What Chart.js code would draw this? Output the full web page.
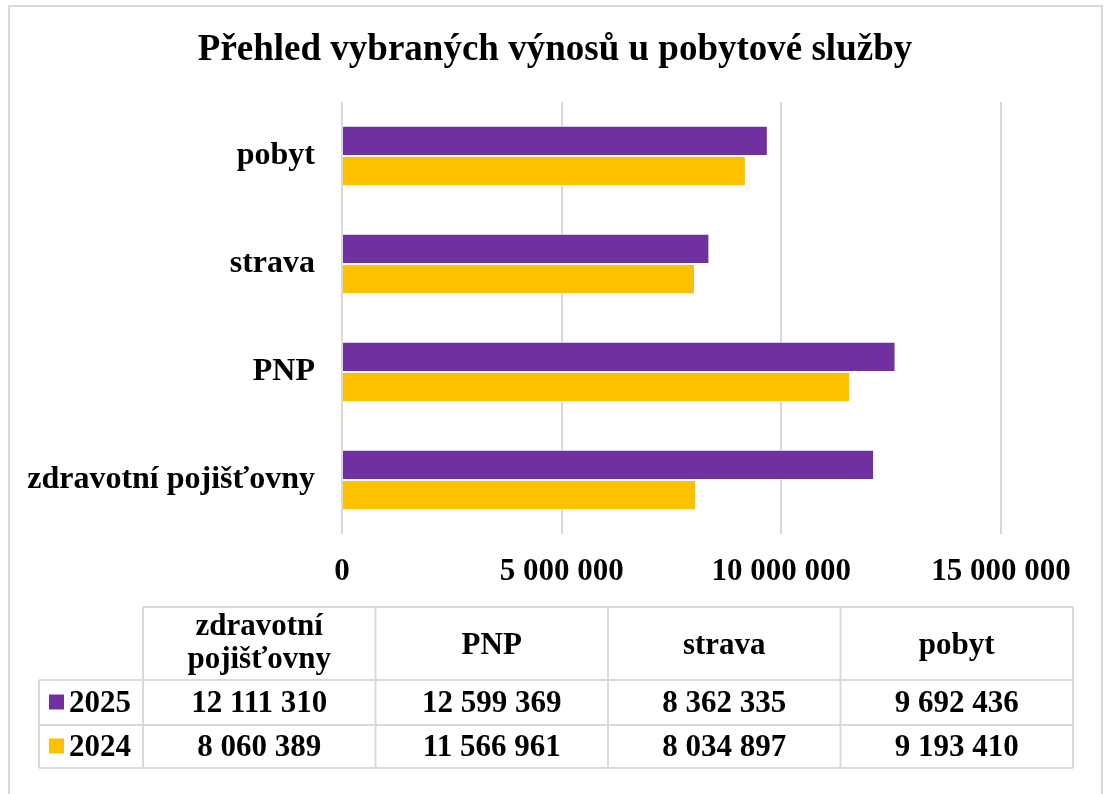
<!DOCTYPE html>
<html>
<head>
<meta charset="utf-8">
<script src="https://cdn.jsdelivr.net/npm/chart.js@4.4.1/dist/chart.umd.min.js"></script>
</head>
<body style="margin:0;background:#fff">

<canvas id="myChart" width="1104" height="794"></canvas>

<script>
var chartTitle = "Přehled vybraných výnosů u pobytové služby";
var categories = ["zdravotní pojišťovny", "PNP", "strava", "pobyt"];
var seriesNames = ["2025", "2024"];
var values2025 = [12111310, 12599369, 8362335, 9692436];
var values2024 = [8060389, 11566961, 8034897, 9193410];
var barColors = ["#7030A0", "#FFC000"];
var xTicks = [0, 5000000, 10000000, 15000000];

var FONT = "'Liberation Serif', 'Times New Roman', serif";

function fmt(v) {
	return v.toString().replace(/\B(?=(\d{3})+(?!\d))/g, " ");
}

// frame, title and data table below the chart (Excel style)
var tablePlugin = {
	id: 'dataTable',
	beforeDraw: function (chart) {
		var ctx = chart.ctx;
		ctx.save();
		ctx.fillStyle = '#fff';
		ctx.fillRect(0, 0, chart.width, chart.height);
		ctx.strokeStyle = '#d9d9d9';
		ctx.lineWidth = 2;
		ctx.strokeRect(9, 6, 1093, 800);
		ctx.fillStyle = '#000';
		ctx.font = "bold 37px " + FONT;
		ctx.textAlign = 'center';
		ctx.textBaseline = 'middle';
		ctx.fillText(chartTitle, 555, 50);
		ctx.restore();
	},
	afterDraw: function (chart) {
		var ctx = chart.ctx;
		var left = 39, legRight = 143, right = 1073;
		var rows = [607, 680, 725, 768];
		var colW = (right - legRight) / categories.length;
		var sets = chart.data.datasets;
		ctx.save();
		ctx.strokeStyle = '#d9d9d9';
		ctx.lineWidth = 2;
		ctx.beginPath();
		// horizontal lines
		ctx.moveTo(legRight, rows[0]); ctx.lineTo(right, rows[0]);
		for (var r = 1; r < rows.length; r++) {
			ctx.moveTo(left, rows[r]); ctx.lineTo(right, rows[r]);
		}
		// vertical lines
		ctx.moveTo(left, rows[1]); ctx.lineTo(left, rows[3]);
		for (var c = 0; c <= categories.length; c++) {
			var x = legRight + c * colW;
			ctx.moveTo(x, rows[0]); ctx.lineTo(x, rows[3]);
		}
		ctx.stroke();

		ctx.fillStyle = '#000';
		ctx.font = "bold 31px " + FONT;
		ctx.textAlign = 'center';
		ctx.textBaseline = 'middle';
		for (var i = 0; i < categories.length; i++) {
			var cx = legRight + (i + 0.5) * colW;
			var label = categories[i];
			if (ctx.measureText(label).width > colW - 10) {
				var parts = label.split(' ');
				ctx.fillText(parts[0], cx, rows[0] + 20);
				ctx.fillText(parts.slice(1).join(' '), cx, rows[0] + 53);
			} else {
				ctx.fillText(label, cx, (rows[0] + rows[1]) / 2 + 2);
			}
			for (var d = 0; d < sets.length; d++) {
				ctx.fillText(fmt(sets[d].data[i]), cx, (rows[d + 1] + rows[d + 2]) / 2 + 1);
			}
		}
		// legend keys
		for (var d = 0; d < sets.length; d++) {
			var cy = (rows[d + 1] + rows[d + 2]) / 2;
			ctx.fillStyle = sets[d].backgroundColor;
			ctx.fillRect(49, cy - 8, 15, 15);
			ctx.fillStyle = '#000';
			ctx.textAlign = 'left';
			ctx.fillText(sets[d].label, 69, cy + 1);
		}
		ctx.restore();
	}
};

new Chart("myChart", {
	type: 'bar',
	data: {
		labels: categories,
		datasets: [{
			label: seriesNames[0],
			data: values2025,
			backgroundColor: barColors[0],
			borderColor: '#ffffff',
			borderWidth: 1
		}, {
			label: seriesNames[1],
			data: values2024,
			backgroundColor: barColors[1],
			borderColor: '#ffffff',
			borderWidth: 1
		}]
	},
	plugins: [tablePlugin],
	options: {
		indexAxis: 'y',
		responsive: false,
		animation: false,
		devicePixelRatio: 1,
		layout: {
			padding: { left: 0, right: 103, top: 102, bottom: 210 }
		},
		datasets: {
			bar: { barPercentage: 1, categoryPercentage: 0.56 }
		},
		plugins: {
			legend: { display: false },
			tooltip: { enabled: false },
			title: { display: false }
		},
		scales: {
			x: {
				min: 0,
				max: 15000000,
				afterBuildTicks: function (s) {
					s.ticks = xTicks.map(function (v) { return { value: v }; });
				},
				afterFit: function (s) { s.height = 50; },
				grid: { color: '#d9d9d9', lineWidth: 2, drawTicks: false },
				border: { display: false },
				ticks: {
					color: '#000',
					padding: 19,
					maxRotation: 0,
					autoSkip: false,
					font: { family: FONT, size: 31, weight: 'bold' },
					callback: function (v) { return fmt(v); }
				}
			},
			y: {
				reverse: true,
				afterFit: function (s) { s.width = 342; },
				grid: { display: false, drawTicks: false },
				border: { display: false },
				ticks: {
					color: '#000',
					padding: 27,
					font: { family: FONT, size: 32, weight: 'bold' }
				}
			}
		}
	}
});
</script>

</body>
</html>
